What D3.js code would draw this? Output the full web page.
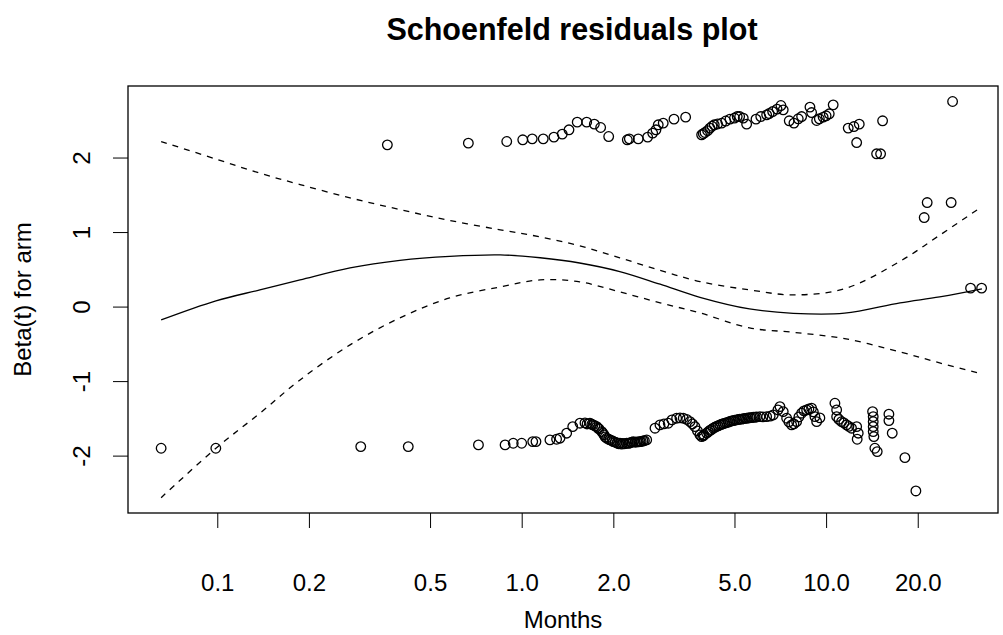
<!DOCTYPE html>
<html>
<head>
<meta charset="utf-8">
<script src="https://d3js.org/d3.v7.min.js"></script>
<style>
body { margin: 0; background: #fff; }
svg text { font-family: "Liberation Sans", Arial, sans-serif; fill: #000; }
.axis line { stroke: #000; }
.axis path { display: none; }
.fit { fill: none; stroke: #000; stroke-width: 1.3px; }
.ci { fill: none; stroke: #000; stroke-width: 1.3px; stroke-dasharray: 6,6; }
.resid { fill: none; stroke: #000; stroke-width: 1.3px; }
</style>
</head>
<body>
<div id="container"></div>
<script>

// scaled Schoenfeld residuals, two bands (arm = 1 / arm = 0)
var upperTime = [0.362, 0.668, 0.893, 1.008, 1.083, 1.177, 1.276, 1.359, 1.43, 1.522,
  1.635, 1.732, 1.817, 1.931, 2.223, 2.257, 2.415, 2.593, 2.693, 2.761,
  2.809, 2.917, 3.164, 3.456, 3.90, 3.95, 4.0, 4.08, 4.153, 4.22,
  4.291, 4.4, 4.538, 4.68, 4.831, 5.0, 5.105, 5.2, 5.343, 5.482,
  5.884, 6.1, 6.377, 6.5, 6.673, 6.9, 7.105, 7.23, 7.566, 7.84,
  8.1, 8.31, 8.85, 8.96, 9.31, 9.5, 9.78, 10.0, 10.24, 10.55,
  11.82, 12.34, 12.85, 12.60, 14.65, 15.10, 15.33, 21.0, 21.48, 25.75,
  26.03, 29.82, 32.42];
var upperBeta = [2.170, 2.193, 2.215, 2.238, 2.251, 2.251, 2.274, 2.314, 2.372, 2.475,
  2.475, 2.448, 2.403, 2.282, 2.238, 2.251, 2.251, 2.274, 2.328, 2.372,
  2.439, 2.462, 2.515, 2.542, 2.305, 2.32, 2.336, 2.36, 2.395, 2.42,
  2.439, 2.45, 2.462, 2.49, 2.515, 2.53, 2.550, 2.55, 2.529, 2.448,
  2.515, 2.55, 2.573, 2.59, 2.617, 2.65, 2.698, 2.640, 2.493, 2.462,
  2.52, 2.550, 2.677, 2.604, 2.497, 2.52, 2.542, 2.56, 2.587, 2.707,
  2.395, 2.416, 2.448, 2.201, 2.050, 2.050, 2.493, 1.195, 1.396, 1.396,
  2.752, 0.247, 0.247];

var lowerTime = [0.0654, 0.0989, 0.296, 0.424, 0.721, 0.882, 0.938, 1.0, 1.087, 1.114,
  1.238, 1.302, 1.336, 1.405, 1.471, 1.554, 1.614, 1.64, 1.676, 1.70,
  1.715, 1.74, 1.764, 1.78, 1.795, 1.832, 1.85, 1.864, 1.88, 1.902,
  1.93, 1.95, 1.98, 2.0, 2.03, 2.056, 2.08, 2.103, 2.13, 2.151,
  2.18, 2.212, 2.24, 2.268, 2.30, 2.326, 2.36, 2.392, 2.42, 2.447,
  2.47, 2.503, 2.53, 2.574, 2.741, 2.846, 2.933, 3.03, 3.116, 3.228,
  3.311, 3.394, 3.483, 3.571, 3.639, 3.708, 3.779, 3.851, 3.90, 3.95,
  3.969, 4.051, 4.10, 4.153, 4.20, 4.258, 4.31, 4.362, 4.42, 4.479,
  4.53, 4.593, 4.65, 4.712, 4.77, 4.831, 4.89, 4.953, 5.01, 5.082,
  5.15, 5.211, 5.28, 5.343, 5.41, 5.482, 5.55, 5.62, 5.69, 5.762,
  5.84, 5.913, 6.062, 6.2, 6.377, 6.55, 6.704, 6.946, 7.052, 7.23,
  7.419, 7.548, 7.704, 7.84, 8.0, 8.14, 8.31, 8.456, 8.63, 8.78,
  8.96, 9.08, 9.19, 9.31, 9.54, 10.69, 10.83, 10.83, 11.02, 11.24,
  11.44, 11.67, 11.88, 12.12, 12.6, 12.75, 12.65, 14.21, 14.28, 14.28,
  14.28, 14.28, 14.35, 14.46, 14.72, 16.08, 16.08, 16.49, 18.15, 19.72];
var lowerBeta = [-1.901, -1.901, -1.879, -1.879, -1.856, -1.856, -1.834, -1.834, -1.812, -1.812,
  -1.789, -1.780, -1.766, -1.699, -1.611, -1.565, -1.561, -1.575, -1.565, -1.58,
  -1.588, -1.60, -1.611, -1.63, -1.642, -1.678, -1.70, -1.722, -1.75, -1.766,
  -1.78, -1.789, -1.80, -1.812, -1.82, -1.830, -1.84, -1.834, -1.845, -1.836,
  -1.84, -1.834, -1.835, -1.830, -1.82, -1.812, -1.82, -1.816, -1.815, -1.812,
  -1.81, -1.803, -1.80, -1.789, -1.632, -1.588, -1.574, -1.565, -1.521, -1.498,
  -1.494, -1.498, -1.514, -1.544, -1.574, -1.611, -1.668, -1.722, -1.745, -1.735,
  -1.722, -1.699, -1.68, -1.662, -1.65, -1.632, -1.62, -1.608, -1.60, -1.588,
  -1.58, -1.572, -1.565, -1.557, -1.55, -1.541, -1.535, -1.530, -1.525, -1.521,
  -1.515, -1.511, -1.51, -1.505, -1.50, -1.498, -1.495, -1.491, -1.49, -1.485,
  -1.485, -1.481, -1.477, -1.48, -1.477, -1.47, -1.454, -1.387, -1.342, -1.409,
  -1.498, -1.548, -1.588, -1.574, -1.544, -1.481, -1.431, -1.400, -1.387, -1.373,
  -1.364, -1.413, -1.477, -1.544, -1.494, -1.297, -1.387, -1.477, -1.514, -1.544,
  -1.561, -1.588, -1.608, -1.632, -1.611, -1.699, -1.780, -1.409, -1.477, -1.544,
  -1.611, -1.678, -1.745, -1.901, -1.946, -1.444, -1.530, -1.699, -2.027, -2.474];

// smoothed beta(t) with its confidence band
var fitTime = [0.0654, 0.099, 0.138, 0.187, 0.273, 0.398, 0.58, 0.85, 1.15, 1.55,
  2.1, 2.85, 3.85, 5.6, 7.8, 11.5, 17.5, 23.6, 32.5];
var fitBeta = [-0.179, 0.077, 0.224, 0.358, 0.519, 0.62, 0.674, 0.694, 0.655, 0.585,
  0.47, 0.30, 0.125, -0.031, -0.091, -0.089, 0.050, 0.130, 0.238];
var fitUpper = [2.215, 1.98, 1.79, 1.638, 1.459, 1.302, 1.156, 1.03, 0.935, 0.815,
  0.654, 0.486, 0.336, 0.224, 0.157, 0.24, 0.608, 0.957, 1.342];
var fitLower = [-2.564, -1.901, -1.431, -0.984, -0.514, -0.152, 0.117, 0.264, 0.358, 0.332,
  0.197, 0.050, -0.085, -0.286, -0.345, -0.43, -0.608, -0.756, -0.903];

var xTicks = [0.1, 0.2, 0.5, 1, 2, 5, 10, 20];
var xTickLabels = ["0.1", "0.2", "0.5", "1.0", "2.0", "5.0", "10.0", "20.0"];
var yTicks = [-2, -1, 0, 1, 2];

var margin = {top: 86, right: 5, bottom: 122, left: 128},
    width = 870,
    height = 427;

var svg = d3.select("#container").append("svg")
    .attr("width", 1003)
    .attr("height", 635);

var x = d3.scaleLog().domain([0.0509, 36.7]).range([0, width]),
    y = d3.scaleLinear().domain([-2.77, 2.96]).range([height, 0]);

var g = svg.append("g")
    .attr("transform", "translate(" + margin.left + "," + margin.top + ")");

// title
svg.append("text")
    .attr("x", 572)
    .attr("y", 40)
    .attr("text-anchor", "middle")
    .style("font-size", "30.5px")
    .style("font-weight", "bold")
    .text("Schoenfeld residuals plot");

// axes
var xAxis = g.append("g")
    .attr("class", "axis")
    .attr("transform", "translate(0," + height + ")")
    .call(d3.axisBottom(x).tickValues(xTicks).tickSize(15).tickSizeOuter(0)
        .tickFormat(function(d, i) { return xTickLabels[i]; }));
xAxis.selectAll("text")
    .attr("y", 70)
    .attr("dy", "0.35em")
    .style("font-size", "24px");

var yAxis = g.append("g")
    .attr("class", "axis")
    .call(d3.axisLeft(y).tickValues(yTicks).tickSize(15).tickSizeOuter(0)
        .tickFormat(function(d) { return String(d); }));
yAxis.selectAll("text")
    .attr("x", null)
    .attr("dy", null)
    .attr("text-anchor", "middle")
    .attr("transform", "translate(-38,0) rotate(-90)")
    .style("font-size", "24px");

g.append("text")
    .attr("transform", "translate(-97," + (height / 2) + ") rotate(-90)")
    .attr("text-anchor", "middle")
    .style("font-size", "24px")
    .text("Beta(t) for arm");

g.append("text")
    .attr("x", width / 2)
    .attr("y", height + 115)
    .attr("text-anchor", "middle")
    .style("font-size", "24px")
    .text("Months");

// residual points
var pts = upperTime.map(function(t, i) { return {t: t, b: upperBeta[i]}; })
    .concat(lowerTime.map(function(t, i) { return {t: t, b: lowerBeta[i]}; }));

g.selectAll("circle.resid")
    .data(pts)
    .enter().append("circle")
    .attr("class", "resid")
    .attr("cx", function(d) { return x(d.t); })
    .attr("cy", function(d) { return y(d.b); })
    .attr("r", 4.8);

// smooth + confidence band
var curve = function(vals) {
  return d3.line()
      .x(function(d, i) { return x(fitTime[i]); })
      .y(function(d) { return y(d); })
      .curve(d3.curveCatmullRom)(vals);
};

g.append("path").attr("class", "fit").attr("d", curve(fitBeta));
g.append("path").attr("class", "ci").attr("d", curve(fitUpper));
g.append("path").attr("class", "ci").attr("d", curve(fitLower));

// box
g.append("rect")
    .attr("x", 0)
    .attr("y", 0)
    .attr("width", width)
    .attr("height", height)
    .attr("fill", "none")
    .attr("stroke", "#000")
    .attr("stroke-width", 1.3);

</script>
</body>
</html>
